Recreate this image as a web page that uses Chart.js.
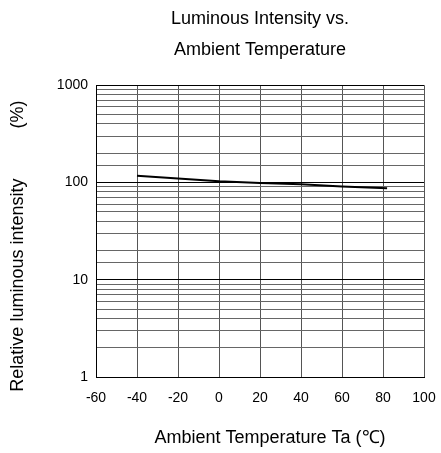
<!DOCTYPE html>
<html>
<head>
<meta charset="utf-8">
<script src="https://cdn.jsdelivr.net/npm/chart.js@4"></script>
<style>
  html, body { margin: 0; padding: 0; background: #fff; }
  #wrap { width: 441px; height: 453px; }
</style>
</head>
<body>
<div id="wrap"><canvas id="grafico"></canvas></div>
<script>
// temperature (x) and relative intensity (%)
const temps = [-40, -20, 0, 20, 40, 60, 82];
const intensity = [117, 110, 103, 99, 96, 91, 87];
const xTicks = [-60, -40, -20, 0, 20, 40, 60, 80, 100];
const yTickLabels = [1, 10, 100, 1000];

const fonte = 'Liberation Sans, Arial, sans-serif';

const ctx = document.getElementById('grafico').getContext('2d');
const grafico = new Chart(ctx, {
    type: 'line',
    data: {
        datasets: [{
            label: 'Relative luminous intensity',
            data: temps.map((t, i) => ({ x: t, y: intensity[i] })),
            borderColor: '#000',
            borderWidth: 2,
            pointRadius: 0,
            tension: 0,
            fill: false
        }]
    },
    options: {
        responsive: true,
        maintainAspectRatio: false,
        animation: false,
        layout: {
            padding: { left: 0, right: 0, top: 0, bottom: 0 }
        },
        plugins: {
            legend: { display: false },
            tooltip: { enabled: false },
            title: {
                display: true,
                fullSize: false,
                text: ['Luminous Intensity vs.', 'Ambient Temperature'],
                color: '#000',
                font: { family: fonte, size: 18, weight: 'normal', lineHeight: 1.7 },
                padding: { top: 4, bottom: 20 }
            }
        },
        scales: {
            x: {
                type: 'linear',
                min: xTicks[0],
                max: xTicks[xTicks.length - 1],
                afterBuildTicks: scale => {
                    scale.ticks = xTicks.map(v => ({ value: v }));
                },
                afterFit: scale => {
                    scale.height = 76;
                    scale.paddingLeft = 0;
                    scale.paddingRight = 17;
                },
                border: { color: '#000', width: 1 },
                grid: { color: '#555', lineWidth: 1, drawTicks: false },
                ticks: {
                    color: '#000',
                    padding: 13,
                    maxRotation: 0,
                    autoSkip: false,
                    font: { family: fonte, size: 14 }
                },
                title: {
                    display: true,
                    text: '    Ambient Temperature Ta (℃)',
                    color: '#000',
                    font: { family: fonte, size: 18 },
                    padding: { top: 10, bottom: 4 }
                }
            },
            y: {
                type: 'logarithmic',
                min: 1,
                max: 1000,
                afterFit: scale => { scale.width = 96; },
                border: { color: '#000', width: 1 },
                grid: {
                    drawTicks: false,
                    lineWidth: 1,
                    color: c => yTickLabels.includes(c.tick.value) ? '#000' : '#666'
                },
                ticks: {
                    color: '#000',
                    padding: 8,
                    autoSkip: false,
                    font: { family: fonte, size: 14 },
                    callback: v => yTickLabels.includes(v) ? String(v) : ''
                },
                title: {
                    display: true,
                    text: 'Relative luminous intensity          (%)      ',
                    color: '#000',
                    font: { family: fonte, size: 18 },
                    padding: { top: 7, bottom: 0 }
                }
            }
        }
    }
});
</script>
</body>
</html>
